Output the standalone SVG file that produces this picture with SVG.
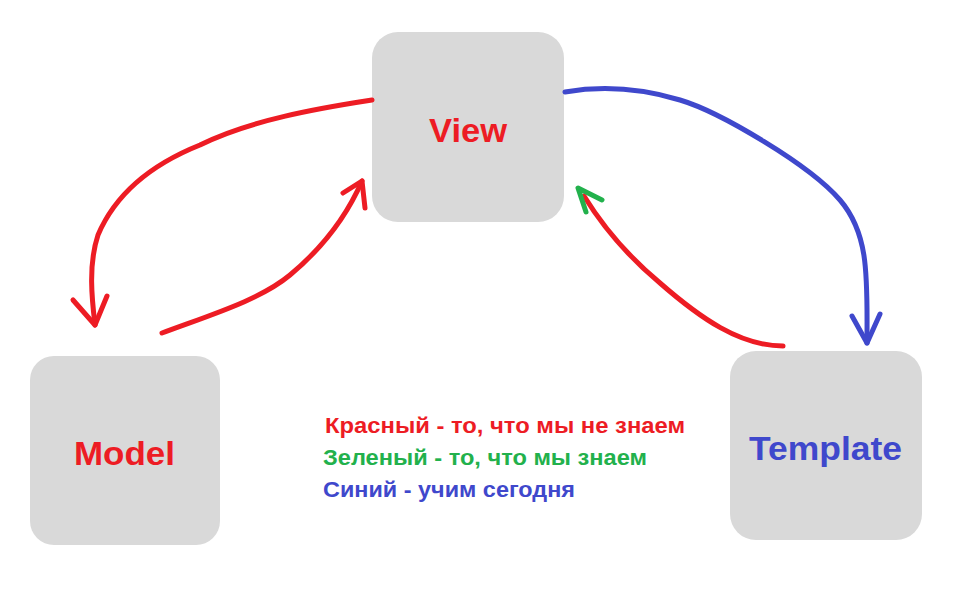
<svg xmlns="http://www.w3.org/2000/svg" width="958" height="591" viewBox="0 0 958 591">
<style>
.box{fill:#d9d9d9}
.lbl{font-family:"Liberation Sans",Arial,sans-serif;font-weight:bold}
.leg{font-family:"Liberation Sans",Arial,sans-serif;font-weight:bold;font-size:22.5px}
.s{fill:none;stroke-width:5;stroke-linecap:round;stroke-linejoin:round}
.r{stroke:#ed1c24}
.b{stroke:#3f48cc}
.g{stroke:#22b14c}
</style>
<rect width="958" height="591" fill="#fff"/>
<g id="view">
<rect class="box" x="372" y="32" width="192" height="190" rx="26"/>
<text class="lbl" x="429" y="142" font-size="33" fill="#ed1c24" textLength="78" lengthAdjust="spacingAndGlyphs">View</text>
</g>
<g id="model">
<rect class="box" x="30" y="356" width="190" height="189" rx="24"/>
<text class="lbl" x="74" y="465" font-size="33" fill="#ed1c24" textLength="101" lengthAdjust="spacingAndGlyphs">Model</text>
</g>
<g id="template">
<rect class="box" x="730" y="351" width="192" height="189" rx="26"/>
<text class="lbl" x="749" y="460" font-size="33" fill="#3f48cc" textLength="153" lengthAdjust="spacingAndGlyphs">Template</text>
</g>
<g id="connectors">
<path class="s r" d="M372,100 C320,108 250,120 200,145 C150,165 115,195 98,235 C88,265 92,300 95,325"/>
<path class="s r" d="M73,300 L95,325 L107,296"/>
<path class="s r" d="M162,333 C210,315 260,300 290,275 C320,250 345,220 362,181"/>
<path class="s r" d="M343,193 L362,181 L365,208"/>
<path class="s b" d="M565,92 C600,86 640,88 680,100 S810,165 840,200 S867,280 867,343"/>
<path class="s b" d="M852,316 L867,343 L880,314"/>
<path class="s r" d="M783,346 C740,346 700,318 660,283 C630,258 605,230 584,196"/>
<path class="s g" d="M586,212 L578,188 L602,200"/>
</g>
<g id="legend">
<text class="leg" x="325" y="433" fill="#ed1c24" textLength="360" lengthAdjust="spacingAndGlyphs">Красный - то, что мы не знаем</text>
<text class="leg" x="323" y="465" fill="#22b14c" textLength="324" lengthAdjust="spacingAndGlyphs">Зеленый - то, что мы знаем</text>
<text class="leg" x="323" y="497" fill="#3f48cc" textLength="252" lengthAdjust="spacingAndGlyphs">Синий - учим сегодня</text>
</g>
</svg>
